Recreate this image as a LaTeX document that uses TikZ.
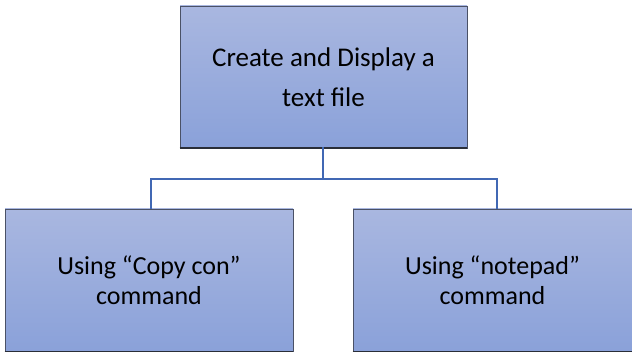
\documentclass[tikz,border=0pt]{standalone}
\usepackage{fontspec}
\setmainfont{Carlito}
\definecolor{boxtop}{HTML}{A9B7E0}
\definecolor{boxbot}{HTML}{8AA1D9}
\definecolor{boxline}{HTML}{4A5166}
\definecolor{boxshadow}{HTML}{2A2E38}
\definecolor{conn}{HTML}{4168B4}
\begin{document}
\begin{tikzpicture}[x=1pt,y=-1pt,
  box/.style={rectangle, draw=boxline, line width=0.8pt, top color=boxtop, bottom color=boxbot,
    align=center, inner sep=0pt},
  bigtext/.style={font=\fontsize{27}{40}\selectfont},
  smalltext/.style={font=\fontsize{26}{30}\selectfont},
  shadowline/.style={draw=boxshadow, line width=1.8pt},
  link/.style={draw=conn, line width=1.8pt}]
\useasboundingbox (0,0) rectangle (632,352);
\node[box, bigtext, minimum width=287pt, minimum height=142pt] (top) at (323.5,77) {Create and Display a\\text file};
\node[box, smalltext, minimum width=288pt, minimum height=143pt] (left) at (149,280.5) {Using “Copy con”\\command};
\node[box, smalltext, minimum width=279pt, minimum height=143pt] (right) at (492.5,280.5) {Using “notepad”\\command};
\draw[shadowline] (top.south west) -- (top.south east);
\draw[shadowline] (left.south west) -- (left.south east);
\draw[shadowline] (right.south west) -- (right.south east);
\coordinate (j) at (323,179);
\draw[link] ([xshift=-0.5pt,yshift=1pt]top.south) -- (j);
\draw[link] (j) -| ([xshift=2pt]left.north);
\draw[link] (j) -| ([xshift=4.5pt]right.north);
\end{tikzpicture}
\end{document}
